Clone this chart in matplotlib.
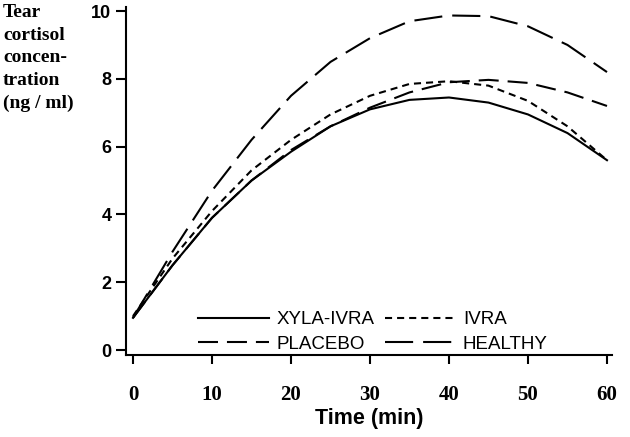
import matplotlib
matplotlib.use('Agg')
import matplotlib.pyplot as plt

# time points (min)
time_min = [0, 5, 10, 15, 20, 25, 30, 35, 40, 45, 50, 55, 60]

# tear cortisol concentration (ng / ml)
xyla_ivra = [0.95, 2.5, 3.9, 5.0, 5.85, 6.6, 7.1, 7.38, 7.45, 7.3, 6.95, 6.4, 5.6]
ivra = [1.0, 2.7, 4.1, 5.3, 6.2, 6.95, 7.5, 7.85, 7.93, 7.8, 7.35, 6.6, 5.6]
placebo = [0.95, 2.5, 3.9, 5.0, 5.9, 6.6, 7.15, 7.6, 7.9, 7.97, 7.88, 7.6, 7.2]
healthy = [0.95, 2.9, 4.7, 6.2, 7.5, 8.5, 9.2, 9.7, 9.87, 9.85, 9.55, 9.0, 8.2]

x_ticks = [0, 10, 20, 30, 40, 50, 60]
y_ticks = [0, 2, 4, 6, 8, 10]

fig = plt.figure(figsize=(6.3, 4.37), dpi=100)
ax = fig.add_axes([0.2, 0.1876, 0.771, 0.7964])

lw = 1.5
l1, = ax.plot(time_min, xyla_ivra, color='black', lw=lw, ls='-', label='XYLA-IVRA')
l2, = ax.plot(time_min, ivra, color='black', lw=lw, ls=(0, (3.4, 2.4)), label='IVRA')
l3, = ax.plot(time_min, placebo, color='black', lw=lw, ls=(0, (9.6, 4.3)), label='PLACEBO')
l4, = ax.plot(time_min, healthy, color='black', lw=lw, ls=(0, (13.5, 4.8)), label='HEALTHY')

ax.set_xlim(-0.886, 60.6)
ax.set_ylim(-0.147, 10.12)

ax.spines['top'].set_visible(False)
ax.spines['right'].set_visible(False)
ax.spines['left'].set_linewidth(1.5)
ax.spines['bottom'].set_linewidth(1.5)

ax.set_xticks(x_ticks)
ax.set_yticks(y_ticks)
ax.tick_params(axis='both', direction='out', width=1.5, color='black')
ax.tick_params(axis='y', length=7, pad=3.5)
ax.tick_params(axis='x', length=6.5, pad=15)
for t in ax.get_xticklabels():
    t.set_fontfamily('Liberation Serif')
    t.set_fontweight('bold')
    t.set_fontsize(15)
for t in ax.get_yticklabels():
    t.set_fontfamily('Liberation Sans')
    t.set_fontweight('bold')
    t.set_fontsize(13)

ax.set_xlabel('Time (min)', fontfamily='Liberation Sans', fontweight='bold',
              fontsize=15.5, labelpad=2)

fig.text(0.005, 0.99, 'Tear\ncortisol\nconcen-\ntration\n(ng / ml)',
         fontfamily='Liberation Serif', fontweight='bold', fontsize=14,
         ha='left', va='top', linespacing=1.42)

leg = fig.legend([l1, l3, l2, l4], ['XYLA-IVRA', 'PLACEBO', 'IVRA', 'HEALTHY'],
                 ncol=2, loc='upper left', bbox_to_anchor=(0.314, 0.288),
                 frameon=False, borderpad=0, borderaxespad=0,
                 handlelength=3.8, handletextpad=0.38, columnspacing=0.55,
                 labelspacing=0.4,
                 prop={'family': 'Liberation Sans', 'size': 13.5})

fig.savefig('out.png', dpi=100)
